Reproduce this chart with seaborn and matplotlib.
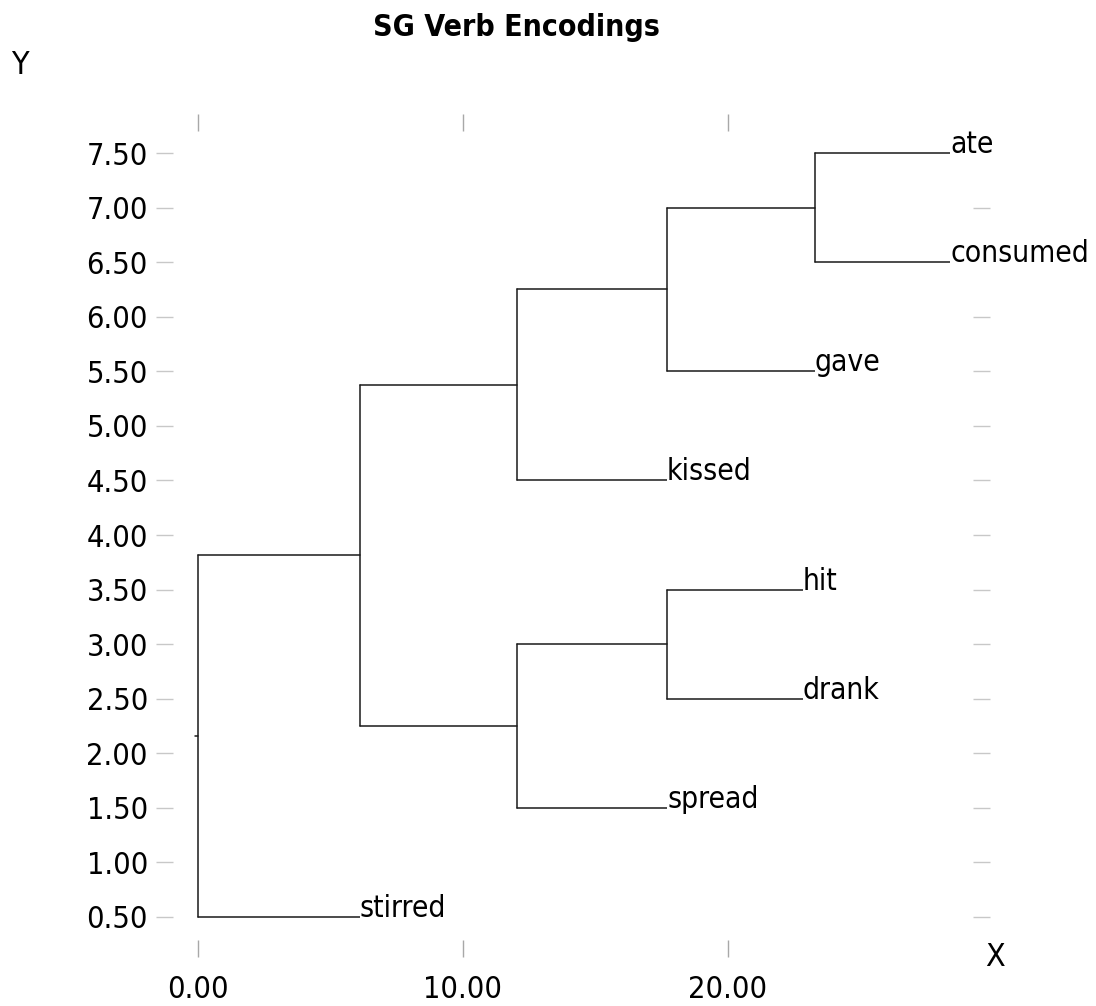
import numpy as np
import pandas as pd
import matplotlib
matplotlib.use("Agg")
import matplotlib.pyplot as plt
import seaborn as sns
from matplotlib import font_manager as fm

# ---------------- data ----------------
leaf_names = ["stirred", "spread", "drank", "hit", "kissed", "gave", "consumed", "ate"]
leaf_y = [0.5, 1.5, 2.5, 3.5, 4.5, 5.5, 6.5, 7.5]
leaf_end_x = [6.1, 17.7, 22.83, 22.83, 17.7, 23.28, 28.38, 28.38]

node_names = ["root", "n1", "n2", "n3", "n4", "n5", "n6"]
node_x = [0.0, 6.1, 12.04, 12.04, 17.7, 17.7, 23.28]
node_children = [("stirred", "n1"), ("n2", "n3"), ("spread", "n4"), ("kissed", "n5"),
                 ("drank", "hit"), ("gave", "n6"), ("consumed", "ate")]

y_ticks = [0.5, 1.0, 1.5, 2.0, 2.5, 3.0, 3.5, 4.0, 4.5, 5.0, 5.5, 6.0, 6.5, 7.0, 7.5]
x_ticks = [0, 10, 20]
title = "SG Verb Encodings"

# ---------------- fonts ----------------
cond = any(f.name == "DejaVu Sans" and str(f.stretch) in ("condensed", "semi-condensed", "75", "87")
           for f in fm.fontManager.ttflist)
stretch = "condensed" if cond else "normal"

sns.set_theme(style="white")
plt.rcParams["font.family"] = ["DejaVu Sans"]
plt.rcParams["font.stretch"] = stretch
plt.rcParams["text.color"] = "black"

# ---------------- build segments ----------------
node_info = dict(zip(node_names, zip(node_x, node_children)))
def node_y(n):
    if n in leaf_names:
        return leaf_y[leaf_names.index(n)]
    a, b = node_info[n][1]
    return (node_y(a) + node_y(b)) / 2
def node_xpos(n):
    if n in leaf_names:
        return leaf_end_x[leaf_names.index(n)]
    return node_info[n][0]

rows = []
sid = 0
for n in node_names:
    nx, (a, b) = node_info[n]
    ya, yb = node_y(a), node_y(b)
    rows += [(nx, ya, sid), (nx, yb, sid)]; sid += 1
    for c in (a, b):
        rows += [(nx, node_y(c), sid), (node_xpos(c), node_y(c), sid)]; sid += 1
root_y = node_y("root")
rows += [(-0.1, root_y, sid), (0.0, root_y, sid)]
df = pd.DataFrame(rows, columns=["x", "y", "seg"])

# ---------------- figure ----------------
W, H = 1096, 1006
fig = plt.figure(figsize=(W / 100, H / 100), dpi=100)
ax = fig.add_axes([173 / W, (H - 940) / H, 800 / W, 809 / H])

sns.lineplot(data=df, x="x", y="y", units="seg", estimator=None, sort=False,
             color="#1a1a1a", lw=1.1, ax=ax, legend=False)

for name, x, y in zip(leaf_names, leaf_end_x, leaf_y):
    ax.text(x, y, name, ha="left", va="baseline", fontsize=21.5, color="black",
            bbox=dict(facecolor="white", edgecolor="none", pad=0), zorder=5)

ax.set_xlim(-0.943, 29.245)
ax.set_ylim(0.289, 7.702)
for s in ax.spines.values():
    s.set_visible(False)

ax.set_yticks(y_ticks)
ax.set_yticklabels([f"{v:.2f}" for v in y_ticks])
ax.set_xticks(x_ticks)
ax.set_xticklabels([f"{v:.2f}" for v in x_ticks])
ax.tick_params(axis="y", which="both", left=True, right=True, direction="out",
               length=12, width=1, color="#c8c8c8", labelsize=22, pad=6, labelcolor="black")
ax.tick_params(axis="x", which="both", bottom=True, top=True, direction="out",
               length=12, width=1, color="#a8a8a8", labelsize=22, pad=13, labelcolor="black")
ax.set_xlabel("")
ax.set_ylabel("")
ax.grid(False)

fig.text(516 / W, 1 - 28 / H, title, ha="center", va="center", fontsize=21.7,
         fontweight="bold", color="black")
fig.text(20 / W, 1 - 65 / H, "Y", ha="center", va="center", fontsize=23, color="black")
fig.text(995 / W, 1 - 957 / H, "X", ha="center", va="center", fontsize=23, color="black")

fig.savefig("out.png", dpi=100, facecolor="white")
